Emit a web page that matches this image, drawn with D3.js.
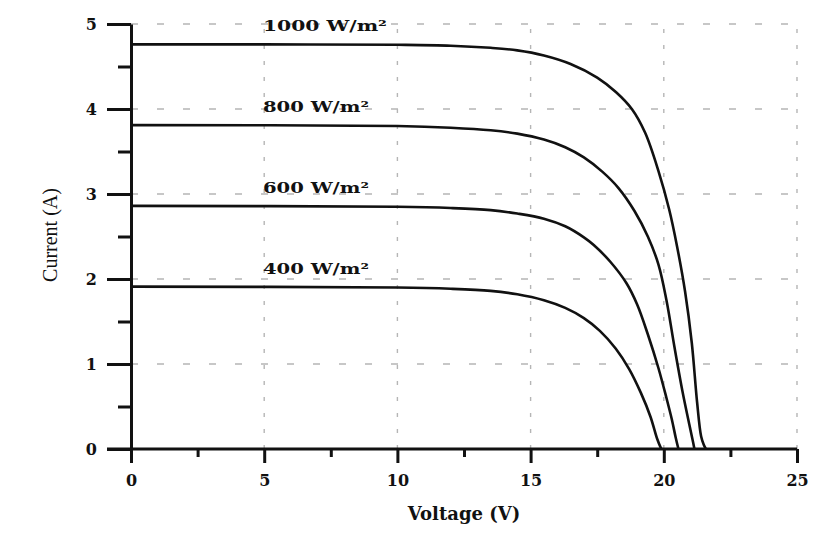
<!DOCTYPE html>
<html>
<head>
<meta charset="utf-8">
<script src="https://cdn.jsdelivr.net/npm/d3@7"></script>
<style>
  body { margin: 0; background: #fff; }
  svg { display: block; }
</style>
</head>
<body>
<div id="chart"></div>
<script>
// I-V curves
const v1000 = [0, 5, 10, 12, 13.5, 14.5, 15.5, 16.5, 17.5, 18.2, 18.8, 19.3, 19.8, 20.2, 20.5, 20.8, 21.05, 21.25, 21.4, 21.5, 21.58];
const i1000 = [4.76, 4.76, 4.755, 4.745, 4.72, 4.69, 4.63, 4.53, 4.37, 4.2, 4.0, 3.72, 3.27, 2.82, 2.38, 1.85, 1.25, 0.55, 0.15, 0.05, 0];
const v800 = [0, 10, 12, 13.5, 14.5, 15.5, 16.3, 17.0, 17.7, 18.3, 18.9, 19.4, 19.8, 20.1, 20.4, 20.7, 20.95, 21.08, 21.15];
const i800 = [3.81, 3.8, 3.78, 3.75, 3.71, 3.64, 3.55, 3.43, 3.26, 3.07, 2.8, 2.5, 2.17, 1.75, 1.2, 0.68, 0.3, 0.11, 0];
const v600 = [0, 10, 12, 13.5, 14.5, 15.5, 16.3, 17.0, 17.37, 18.0, 18.6, 19.0, 19.4, 19.8, 20.1, 20.3, 20.45, 20.55];
const i600 = [2.86, 2.85, 2.835, 2.81, 2.77, 2.71, 2.62, 2.49, 2.4, 2.2, 1.95, 1.7, 1.35, 0.95, 0.6, 0.35, 0.13, 0];
const v400 = [0, 10, 12, 13.5, 14.5, 15.5, 16.3, 17.0, 17.6, 18.2, 18.7, 19.14, 19.5, 19.75, 19.88, 19.92];
const i400 = [1.91, 1.9, 1.885, 1.86, 1.82, 1.75, 1.66, 1.54, 1.39, 1.18, 0.94, 0.66, 0.38, 0.12, 0.02, 0];

const labels = ['1000 W/m²', '800 W/m²', '600 W/m²', '400 W/m²'];
const xTicks = [0, 5, 10, 15, 20, 25];
const xMinor = [2.5, 7.5, 12.5, 17.5, 22.5];
const yTicks = [0, 1, 2, 3, 4, 5];
const yMinor = [0.5, 1.5, 2.5, 3.5, 4.5];

let width = 838, height = 540;
let margin = {left: 131, right: 41, top: 24, bottom: 91};

let x = d3.scaleLinear().domain([0, 25]).range([margin.left, width - margin.right]);
let y = d3.scaleLinear().domain([0, 5]).range([height - margin.bottom, margin.top]);

let svg = d3.select('#chart').append('svg').attr('width', width).attr('height', height);

// grid
let grid = svg.append('g').attr('stroke', '#b5b5b5').attr('stroke-width', 1.4).attr('fill', 'none');
grid.selectAll('line.h').data(yTicks.slice(1)).enter().append('line')
  .attr('x1', x(0)).attr('x2', x(25))
  .attr('y1', d => y(d)).attr('y2', d => y(d))
  .attr('stroke-dasharray', '7,19');
grid.selectAll('line.v').data(xTicks.slice(1)).enter().append('line')
  .attr('x1', d => x(d)).attr('x2', d => x(d))
  .attr('y1', y(0)).attr('y2', y(5))
  .attr('stroke-dasharray', '4,12');

// curves
let series = [[v1000, i1000], [v800, i800], [v600, i600], [v400, i400]];
let line = d3.line().x(d => x(d[0])).y(d => y(d[1])).curve(d3.curveCatmullRom.alpha(0.5));
svg.append('g').selectAll('path').data(series).enter().append('path')
  .attr('d', s => line(s[0].map((v, k) => [v, s[1][k]])))
  .attr('fill', 'none').attr('stroke', '#111').attr('stroke-width', 2.6);

// axes
let xAxis = svg.append('g').attr('transform', `translate(0,${y(0)})`)
  .call(d3.axisBottom(x).tickValues(xTicks).tickSize(14).tickPadding(12).tickSizeOuter(0));
svg.append('g').attr('transform', `translate(0,${y(0)})`)
  .call(d3.axisBottom(x).tickValues(xMinor).tickSize(8).tickFormat('').tickSizeOuter(0))
  .select('.domain').remove();
let yAxis = svg.append('g').attr('transform', `translate(${x(0)},0)`)
  .call(d3.axisLeft(y).tickValues(yTicks).tickFormat(d3.format('d')).tickSize(24).tickPadding(10).tickSizeOuter(0));
svg.append('g').attr('transform', `translate(${x(0)},0)`)
  .call(d3.axisLeft(y).tickValues(yMinor).tickSize(13).tickFormat('').tickSizeOuter(0))
  .select('.domain').remove();

svg.selectAll('.domain').attr('stroke', '#111').attr('stroke-width', 3);
svg.selectAll('.tick line').attr('stroke', '#111').attr('stroke-width', 3);
svg.selectAll('.tick text').attr('fill', '#111')
  .style('font-family', '"DejaVu Serif", serif').style('font-weight', 'bold').style('font-size', '16px');
xAxis.select('.domain').attr('d', `M${x(0) - 24},0H${x(25)}`);

// curve labels
let labelY = [4.76, 3.81, 2.86, 1.91];
svg.append('g').selectAll('text').data(labels).enter().append('text')
  .attr('x', 263).attr('y', (d, k) => y(labelY[k]) - 13)
  .attr('textLength', (d, k) => k == 0 ? 124 : 106).attr('lengthAdjust', 'spacingAndGlyphs')
  .style('font-family', '"DejaVu Serif", serif').style('font-weight', 'bold').style('font-size', '14.5px')
  .attr('fill', '#111')
  .text(d => d);

// axis titles
svg.append('text').attr('x', 464).attr('y', 520).attr('text-anchor', 'middle')
  .style('font-family', '"DejaVu Serif", serif').style('font-weight', 'bold').style('font-size', '18px')
  .attr('fill', '#111').text('Voltage (V)');
svg.append('text').attr('transform', 'translate(57,235) rotate(-90)').attr('text-anchor', 'middle')
  .style('font-family', '"Liberation Serif", serif').style('font-size', '20px')
  .attr('fill', '#111').text('Current (A)');
</script>
</body>
</html>
